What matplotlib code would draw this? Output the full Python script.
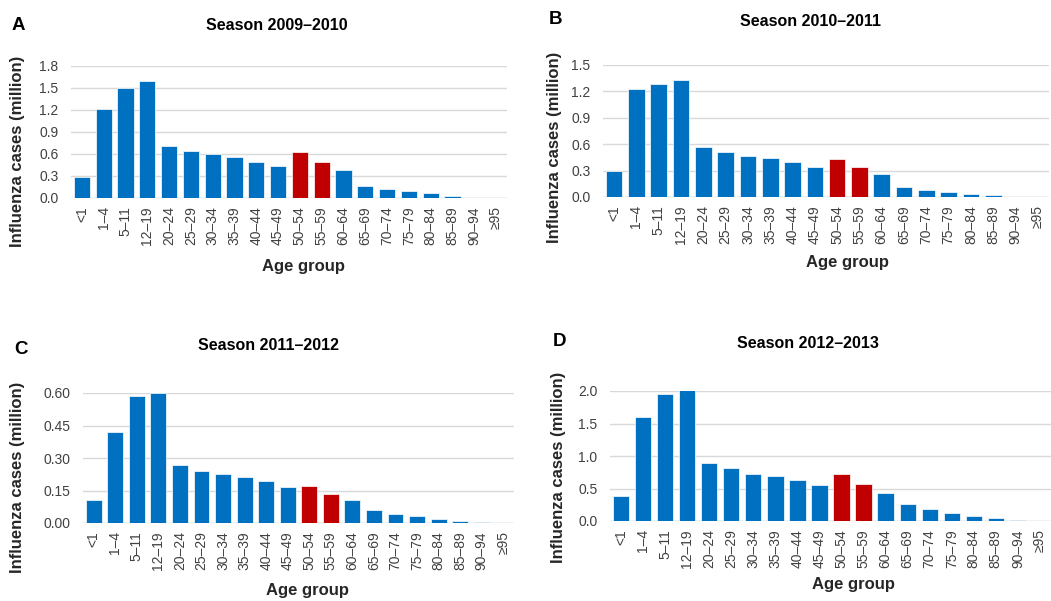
import numpy as np
import matplotlib.pyplot as plt
from matplotlib.ticker import FormatStrFormatter

plt.rcParams['font.family'] = ['Liberation Sans', 'DejaVu Sans']

age_groups = ['<1', '1–4', '5–11', '12–19', '20–24', '25–29', '30–34', '35–39',
              '40–44', '45–49', '50–54', '55–59', '60–64', '65–69', '70–74',
              '75–79', '80–84', '85–89', '90–94', '≥95']

# influenza cases (million) per age group
cases_0910 = [0.29, 1.215, 1.505, 1.59, 0.71, 0.645, 0.605, 0.565, 0.495, 0.44,
              0.625, 0.49, 0.38, 0.17, 0.128, 0.091, 0.064, 0.027, 0.004, 0.001]
cases_1011 = [0.30, 1.227, 1.284, 1.333, 0.566, 0.509, 0.467, 0.44, 0.399, 0.342,
              0.429, 0.342, 0.262, 0.11, 0.076, 0.053, 0.038, 0.023, 0.003, 0.0005]
cases_1112 = [0.105, 0.421, 0.585, 0.602, 0.27, 0.242, 0.224, 0.213, 0.193, 0.165,
              0.173, 0.136, 0.105, 0.059, 0.042, 0.031, 0.017, 0.008, 0.005, 0.0005]
cases_1213 = [0.386, 1.594, 1.954, 2.01, 0.889, 0.812, 0.73, 0.699, 0.632, 0.555,
              0.72, 0.576, 0.432, 0.257, 0.185, 0.129, 0.072, 0.041, 0.02, 0.001]

seasons = ['Season 2009–2010', 'Season 2010–2011', 'Season 2011–2012', 'Season 2012–2013']
letters = ['A', 'B', 'C', 'D']
ymax = [1.8, 1.5, 0.60, 2.0]
ystep = [0.3, 0.3, 0.15, 0.5]
yfmt = ['%.1f', '%.1f', '%.2f', '%.1f']
highlight = ['50–54', '55–59']

BLUE = '#0070C0'
RED = '#C00000'
GRID = '#D9D9D9'

W, H = 1051, 601
fig = plt.figure(figsize=(W / 100, H / 100), dpi=100)

# pixel layout: axes (left, top, right, bottom), title, letter, ylabel, xlabel
boxes = [(71, 66, 507, 198), (603, 65, 1049, 197), (83, 393, 514, 523), (610, 391, 1051, 521)]
title_pos = [(277, 26), (810, 22), (268, 346), (808, 343)]
letter_pos = [(12, 25), (549, 20), (14, 349), (553, 341)]
ylab_pos = [(18, 151), (555, 147), (18, 477), (559, 467)]
xlab_pos = [(304, 266), (847, 262), (307, 590), (853, 585)]

def fx(px):
    return px / W

def fy(py):
    return 1 - py / H

data = [cases_0910, cases_1011, cases_1112, cases_1213]
x = np.arange(len(age_groups))
colors = [RED if a in highlight else BLUE for a in age_groups]

for i in range(4):
    l, t, r, b = boxes[i]
    ax = fig.add_axes([fx(l), fy(b), (r - l) / W, (b - t) / H])
    ax.bar(x, data[i], width=0.74, color=colors, edgecolor='white', linewidth=0.5, zorder=3)
    ax.set_xlim(-0.5, len(age_groups) - 0.5)
    ax.set_ylim(0, ymax[i])
    ax.set_yticks(np.arange(0, ymax[i] + ystep[i] / 2, ystep[i]))
    ax.yaxis.set_major_formatter(FormatStrFormatter(yfmt[i]))
    ax.set_xticks(x)
    ax.set_xticklabels(age_groups, rotation=90, fontsize=10, color='#404040')
    ax.tick_params(axis='y', labelsize=10, length=0, pad=9, labelcolor='#404040')
    ax.tick_params(axis='x', length=0, pad=6)
    ax.grid(axis='y', color=GRID, linewidth=1, zorder=0)
    ax.set_axisbelow(True)
    for s in ax.spines.values():
        s.set_visible(False)
    ax.axhline(0, color=GRID, linewidth=1, zorder=1)

    fig.text(fx(title_pos[i][0]), fy(title_pos[i][1]), seasons[i], fontsize=11.5,
             fontweight='bold', ha='center', va='center')
    fig.text(fx(letter_pos[i][0]), fy(letter_pos[i][1]), letters[i], fontsize=13.5,
             fontweight='bold', ha='left', va='center')
    fig.text(fx(ylab_pos[i][0]), fy(ylab_pos[i][1]), 'Influenza cases (million)', fontsize=12,
             fontweight='bold', rotation=90, ha='center', va='center', color='#262626')
    fig.text(fx(xlab_pos[i][0]), fy(xlab_pos[i][1]), 'Age group', fontsize=12,
             fontweight='bold', ha='center', va='center', color='#262626')

fig.savefig('out.png', dpi=100, facecolor='white')
